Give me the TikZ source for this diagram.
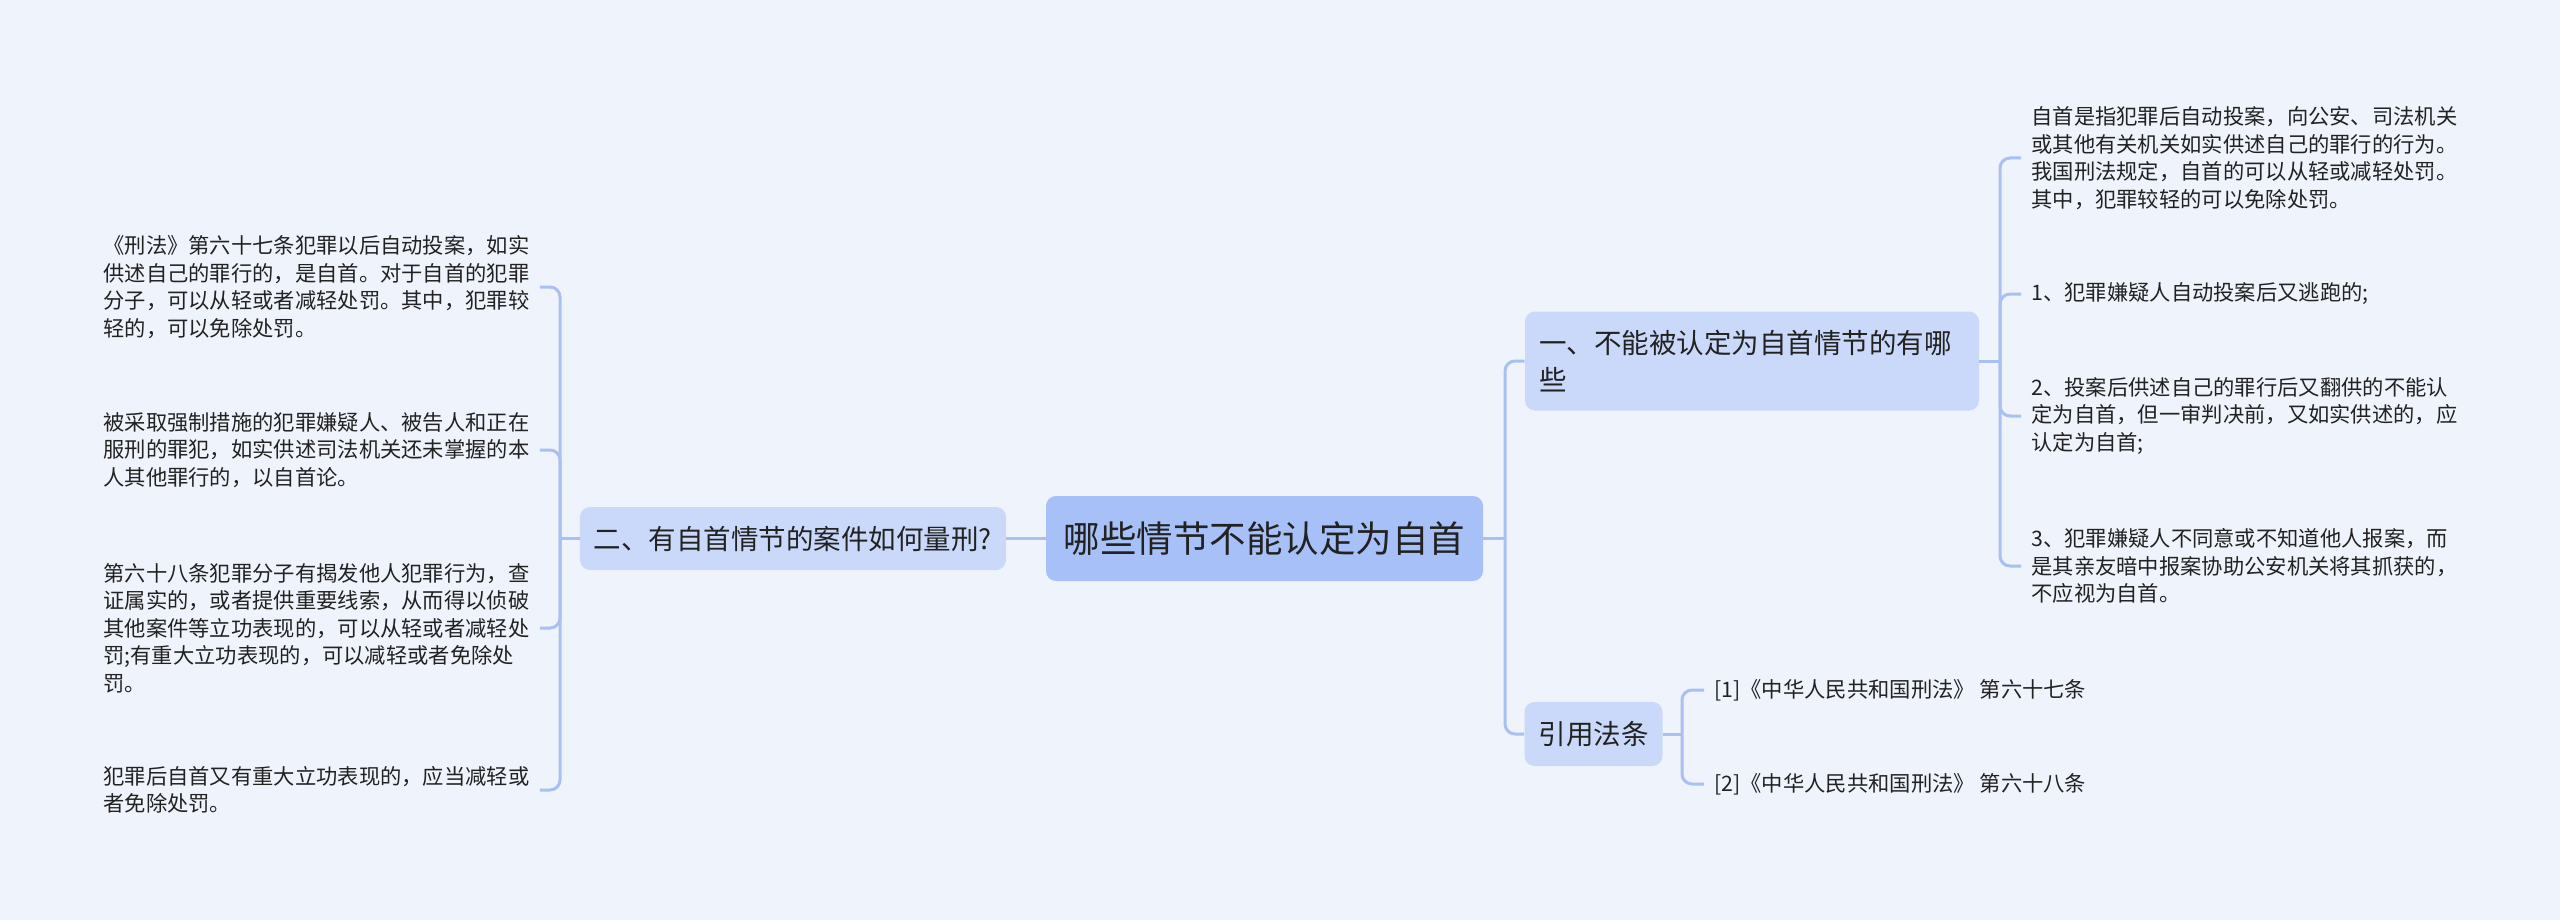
\documentclass[tikz,border=0pt]{standalone}
\usepackage{fontspec}
\setmainfont{Noto Sans CJK SC}
\usetikzlibrary{positioning}

\definecolor{bgblue}{RGB}{239,243,251}
\definecolor{rootblue}{RGB}{167,192,247}
\definecolor{branchblue}{RGB}{202,217,250}
\definecolor{linkblue}{RGB}{169,193,242}
\definecolor{ink}{RGB}{34,34,34}

\begin{document}
\begin{tikzpicture}[x=0.5pt, y=-0.5pt, text=ink,
    root/.style={fill=rootblue, rounded corners=5pt, font=\fontsize{18.25}{22}\selectfont,
        minimum width=218.5pt, minimum height=42.5pt, inner sep=0pt},
    branch/.style={fill=branchblue, rounded corners=5pt, font=\fontsize{13.75}{18.5}\selectfont,
        align=left, inner xsep=7pt, inner ysep=0pt, minimum height=31.5pt},
    leaf/.style={anchor=west, font=\fontsize{10.65}{13.75}\selectfont, align=left,
        inner xsep=5pt, inner ysep=2pt},
    link/.style={draw=linkblue, line width=1.5pt, rounded corners=5pt}]
    \fill[bgblue, use as bounding box] (0,0) rectangle (2560,920);

    % Root and branches
    \node[root] (root) at (1264.5, 538.5) {哪些情节不能认定为自首};
    \node[branch, minimum width=212pt] (q2) at (793, 538.5) {二、有自首情节的案件如何量刑?};
    \node[branch, text width=213pt, minimum height=49.5pt] (q1) at (1752, 361)
        {一、不能被认定为自首情节的有哪\\些};
    \node[branch, minimum width=68.5pt, minimum height=32pt] (cite) at (1593.5, 734) {引用法条};

    % Leaves left
    \node[leaf] (b1) at (93, 287) {《刑法》第六十七条犯罪以后自动投案，如实\\供述自己的罪行的，是自首。对于自首的犯罪\\分子，可以从轻或者减轻处罚。其中，犯罪较\\轻的，可以免除处罚。};
    \node[leaf] (b2) at (93, 450) {被采取强制措施的犯罪嫌疑人、被告人和正在\\服刑的罪犯，如实供述司法机关还未掌握的本\\人其他罪行的，以自首论。};
    \node[leaf] (b3) at (93, 628) {第六十八条犯罪分子有揭发他人犯罪行为，查\\证属实的，或者提供重要线索，从而得以侦破\\其他案件等立功表现的，可以从轻或者减轻处\\罚;有重大立功表现的，可以减轻或者免除处\\罚。};
    \node[leaf] (b4) at (93, 790) {犯罪后自首又有重大立功表现的，应当减轻或\\者免除处罚。};

    % Leaves right
    \node[leaf] (a1) at (2021, 158) {自首是指犯罪后自动投案，向公安、司法机关\\或其他有关机关如实供述自己的罪行的行为。\\我国刑法规定，自首的可以从轻或减轻处罚。\\其中，犯罪较轻的可以免除处罚。};
    \node[leaf] (a2) at (2021, 294) {1、犯罪嫌疑人自动投案后又逃跑的;};
    \node[leaf] (a3) at (2021, 416) {2、投案后供述自己的罪行后又翻供的不能认\\定为自首，但一审判决前，又如实供述的，应\\认定为自首;};
    \node[leaf] (a4) at (2021, 566) {3、犯罪嫌疑人不同意或不知道他人报案，而\\是其亲友暗中报案协助公安机关将其抓获的，\\不应视为自首。};

    % Cited articles
    \node[leaf] (c1) at (1704, 690) {[1]《中华人民共和国刑法》 第六十七条};
    \node[leaf] (c2) at (1704, 784) {[2]《中华人民共和国刑法》 第六十八条};

    % Junctions
    \coordinate (jl) at (560, 538.5);
    \coordinate (jr) at (1505, 538.5);
    \coordinate (jq1) at (2000, 361);
    \coordinate (jcite) at (1682, 734);

    % Connections
    \draw[link] (q2.east) -- (root.west);
    \draw[link] (q2.west) -- (jl);
    \foreach \b in {b1, b2, b3, b4}
        \draw[link] (jl) |- (\b.east);
    \draw[link] (root.east) -- (jr);
    \draw[link] (jr) |- (q1.west);
    \draw[link] (jr) |- (cite.west);
    \draw[link] (q1.east) -- (jq1);
    \foreach \a in {a1, a2, a3, a4}
        \draw[link] (jq1) |- (\a.west);
    \draw[link] (cite.east) -- (jcite);
    \draw[link] (jcite) |- (c1.west);
    \draw[link] (jcite) |- (c2.west);
\end{tikzpicture}
\end{document}
